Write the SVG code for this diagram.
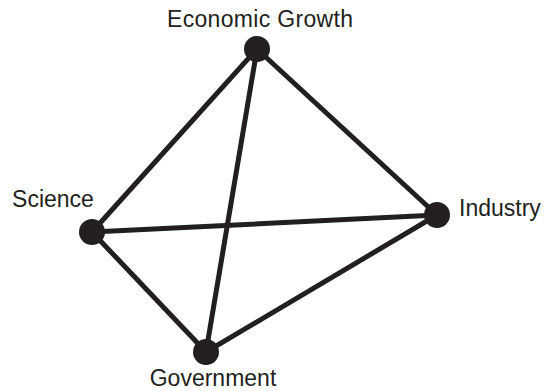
<svg xmlns="http://www.w3.org/2000/svg" width="544" height="391" viewBox="0 0 544 391">
<style>
.edge{stroke:#231f20;stroke-width:5;fill:none;stroke-linecap:round}
.dot{fill:#231f20}
.lbl{font-family:"Liberation Sans",Arial,sans-serif;font-size:23px;fill:#231f20}
</style>
<rect width="544" height="391" fill="#fff"/>
<g id="connectors">
<line class="edge" x1="257" y1="49" x2="92" y2="232"/>
<line class="edge" x1="257" y1="49" x2="437" y2="215"/>
<line class="edge" x1="257" y1="49" x2="206" y2="352"/>
<line class="edge" x1="92" y1="232" x2="437" y2="215"/>
<line class="edge" x1="92" y1="232" x2="206" y2="352"/>
<line class="edge" x1="437" y1="215" x2="206" y2="352"/>
</g>
<g id="economic-growth"><circle class="dot" cx="257" cy="49" r="13"/><text class="lbl" x="260" y="27" text-anchor="middle" textLength="186">Economic Growth</text></g>
<g id="science"><circle class="dot" cx="92" cy="232" r="13"/><text class="lbl" x="53" y="207" text-anchor="middle">Science</text></g>
<g id="industry"><circle class="dot" cx="437" cy="215" r="13"/><text class="lbl" x="459" y="216">Industry</text></g>
<g id="government"><circle class="dot" cx="206" cy="352" r="13"/><text class="lbl" x="213" y="385.5" text-anchor="middle">Government</text></g>
</svg>
